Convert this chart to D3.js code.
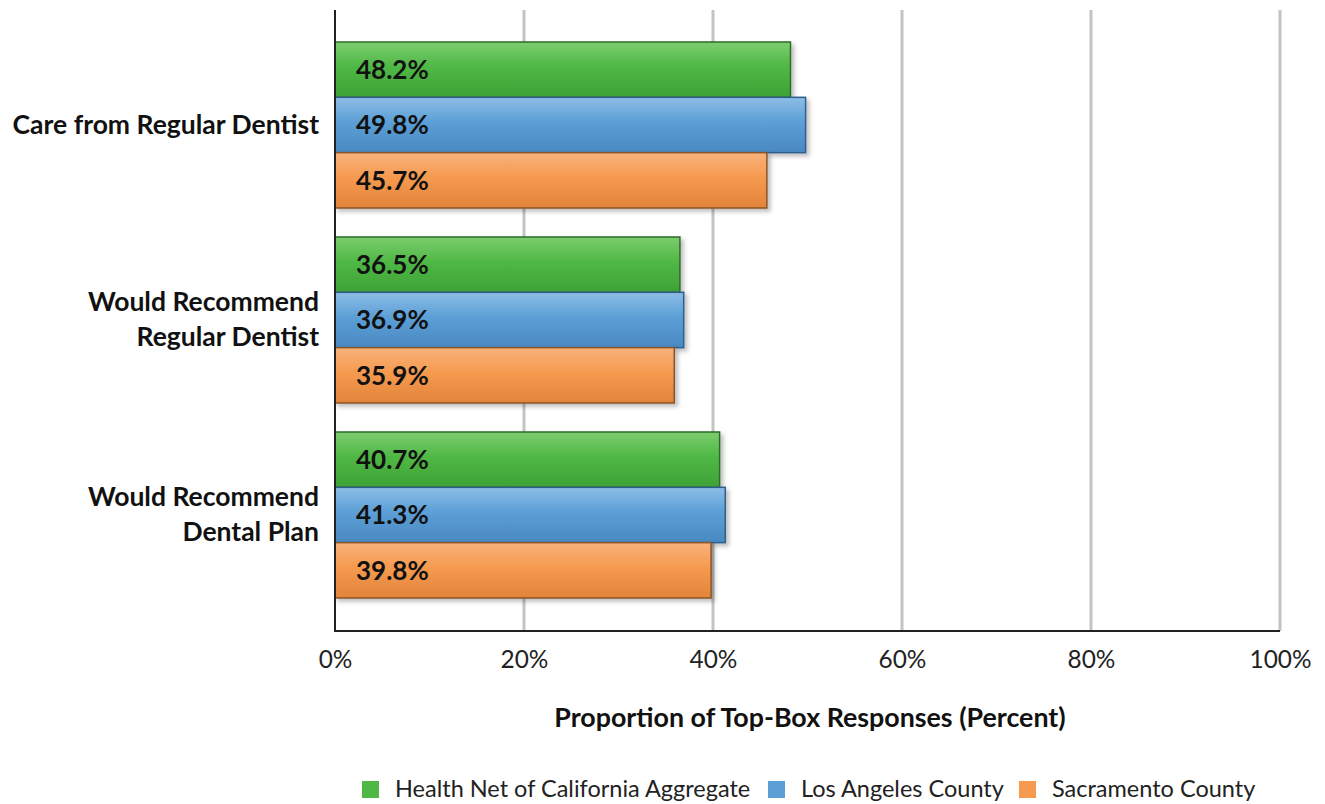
<!DOCTYPE html>
<html><head><meta charset="utf-8">
<script src="https://cdn.jsdelivr.net/npm/d3@7"></script>
<style>body{margin:0;background:#fff;} svg{display:block;}</style>
</head><body><svg id="c" width="1325" height="804"></svg>
<script>
const categories = [["Care from Regular Dentist"], ["Would Recommend", "Regular Dentist"], ["Would Recommend", "Dental Plan"]];
const seriesNames = ["Health Net of California Aggregate", "Los Angeles County", "Sacramento County"];
const healthNet = [48.2, 36.5, 40.7];
const losAngeles = [49.8, 36.9, 41.3];
const sacramento = [45.7, 35.9, 39.8];
const xTicks = [0, 20, 40, 60, 80, 100];

const series = [healthNet, losAngeles, sacramento];
const colors = [
  {top:"#7ccd6e", mid:"#4fb845", bot:"#3ea236", stroke:"#2f6b2a"},
  {top:"#8dbde6", mid:"#5b9fd6", bot:"#4a88c2", stroke:"#2f5f8a"},
  {top:"#f9b27c", mid:"#f59a4f", bot:"#e2843a", stroke:"#8a5428"}
];
const font = "Lato, 'Open Sans', sans-serif";
const svg = d3.select("#c");
const defs = svg.append("defs");
colors.forEach((c,i)=>{
  const g = defs.append("linearGradient").attr("id","g"+i).attr("x1",0).attr("y1",0).attr("x2",0).attr("y2",1);
  g.append("stop").attr("offset","0%").attr("stop-color",c.top);
  g.append("stop").attr("offset","45%").attr("stop-color",c.mid);
  g.append("stop").attr("offset","100%").attr("stop-color",c.bot);
});
const f = defs.append("filter").attr("id","sh").attr("x","-10%").attr("y","-10%").attr("width","130%").attr("height","140%");
f.append("feDropShadow").attr("dx",3).attr("dy",3).attr("stdDeviation",2).attr("flood-color","#000").attr("flood-opacity",0.25);

const x = d3.scaleLinear().domain([0,100]).range([335,1280]);
const y0 = d3.scaleBand().domain(d3.range(categories.length)).range([27.5,612.5]).paddingInner(29/195).paddingOuter(29/390);
const y1 = d3.scaleBand().domain(d3.range(series.length)).range([0,y0.bandwidth()]);

const plotTop = 10, plotBottom = 631;
// gridlines
svg.append("g").selectAll("line").data(xTicks.filter(t=>t>0)).join("line")
  .attr("x1",d=>x(d)).attr("x2",d=>x(d)).attr("y1",plotTop).attr("y2",plotBottom)
  .attr("stroke","#c4c4c4").attr("stroke-width",3);

// bars
const groups = svg.append("g").selectAll("g").data(categories).join("g")
  .attr("transform",(d,i)=>`translate(0,${y0(i)})`);
groups.each(function(cat,ci){
  const g = d3.select(this);
  series.forEach((s,si)=>{
    g.append("rect").attr("x",x(0)).attr("y",y1(si)).attr("width",x(s[ci])-x(0)).attr("height",y1.bandwidth())
      .attr("fill",`url(#g${si})`).attr("stroke",colors[si].stroke).attr("stroke-width",1.5).attr("filter","url(#sh)");
    g.append("text").attr("x",x(0)+21).attr("y",y1(si)+y1.bandwidth()/2).attr("dy","0.36em")
      .attr("font-family",font).attr("font-weight","bold").attr("font-size",26).attr("fill","#111")
      .text(s[ci].toFixed(1)+"%");
  });
});

// axes
svg.append("line").attr("x1",x(0)).attr("x2",x(0)).attr("y1",plotTop).attr("y2",plotBottom).attr("stroke","#222").attr("stroke-width",2);
svg.append("line").attr("x1",x(0)-1).attr("x2",x(100)).attr("y1",plotBottom).attr("y2",plotBottom).attr("stroke","#222").attr("stroke-width",2);

const xAxis = d3.axisBottom(x).tickValues(xTicks).tickFormat(d=>d+"%").tickSize(0).tickPadding(20);
const ax = svg.append("g").attr("transform",`translate(0,${plotBottom})`).call(xAxis);
ax.select(".domain").remove();
ax.selectAll("text").attr("font-family",font).attr("font-size",24.4).attr("fill","#222");

// category labels
svg.append("g").selectAll("text").data(categories).join("text")
  .attr("text-anchor","end").attr("font-family",font).attr("font-weight","bold").attr("font-size",26.5).attr("fill","#111")
  .each(function(lines,i){
    const t = d3.select(this);
    const cy = y0(i)+y0.bandwidth()/2;
    const lh = 35;
    lines.forEach((l,li)=>{
      t.append("tspan").attr("x",319).attr("y",cy - 1 + (li-(lines.length-1)/2)*lh).attr("dy","0.36em").text(l);
    });
  });

// axis title
svg.append("text").attr("x",810).attr("y",717).attr("dy","0.36em").attr("text-anchor","middle")
  .attr("font-family",font).attr("font-weight","bold").attr("font-size",26.8).attr("fill","#111")
  .text("Proportion of Top-Box Responses (Percent)");

// legend
const legendX = [362, 768, 1019];
const lg = svg.append("g").selectAll("g").data(seriesNames).join("g").attr("transform",(d,i)=>`translate(${legendX[i]},789)`);
lg.append("rect").attr("x",0).attr("y",-8).attr("width",17).attr("height",17).attr("fill",(d,i)=>colors[i].mid);
lg.append("text").attr("x",33).attr("dy","0.36em").attr("font-family",font).attr("font-size",23.5).attr("fill","#222").text(d=>d);
</script></body></html>
